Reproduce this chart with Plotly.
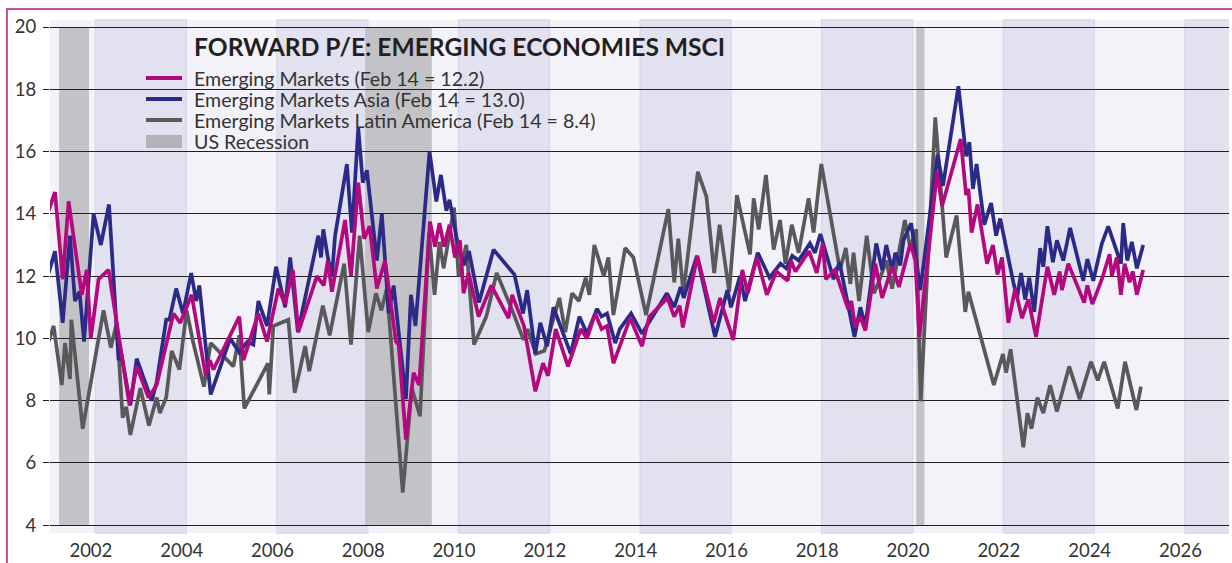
import plotly.graph_objects as go

# ---------------- data ----------------
em_years = [2001.07, 2001.21, 2001.38, 2001.51, 2001.80, 2001.91, 2002.00, 2002.17, 2002.39, 2002.85,
            2003.01, 2003.27, 2003.45, 2003.82, 2003.97, 2004.22, 2004.53, 2004.62, 2004.70, 2005.27,
            2005.36, 2005.69, 2005.88, 2006.13, 2006.28, 2006.45, 2006.57, 2006.98, 2007.13, 2007.22,
            2007.31, 2007.60, 2007.73, 2007.89, 2008.02, 2008.14, 2008.30, 2008.48, 2008.72, 2008.78,
            2008.94, 2009.11, 2009.23, 2009.47, 2009.58, 2009.68, 2009.78, 2009.90, 2010.02, 2010.13,
            2010.21, 2010.32, 2010.54, 2010.82, 2011.20, 2011.28, 2011.54, 2011.79, 2011.96, 2012.07,
            2012.24, 2012.51, 2012.79, 2012.93, 2013.11, 2013.25, 2013.37, 2013.51, 2013.88, 2014.14,
            2014.30, 2014.70, 2014.85, 2014.97, 2015.04, 2015.36, 2015.72, 2015.86, 2015.95, 2016.15,
            2016.35, 2016.47, 2016.67, 2016.89, 2017.10, 2017.35, 2017.42, 2017.52, 2017.82, 2017.99,
            2018.12, 2018.19, 2018.39, 2018.68, 2018.75, 2018.84, 2018.95, 2019.06, 2019.28, 2019.43,
            2019.65, 2019.80, 2020.05, 2020.16, 2020.25, 2020.64, 2020.75, 2021.16, 2021.28, 2021.33,
            2021.40, 2021.53, 2021.74, 2021.87, 2021.97, 2022.07, 2022.21, 2022.36, 2022.51, 2022.65,
            2022.82, 2023.07, 2023.22, 2023.34, 2023.39, 2023.53, 2023.88, 2023.95, 2024.06, 2024.27,
            2024.44, 2024.49, 2024.60, 2024.69, 2024.77, 2024.88, 2024.95, 2025.04, 2025.18]
em_values = [14.1, 14.7, 11.9, 14.4, 11.4, 12.2, 10.0, 11.9, 12.2, 7.85,
             9.1, 8.1, 8.5, 10.8, 10.5, 11.4, 8.8, 9.3, 9.0, 10.7,
             9.3, 10.8, 9.9, 11.6, 11.1, 12.2, 10.2, 12.0, 11.7, 12.5,
             11.5, 13.8, 12.0, 15.0, 13.2, 13.6, 11.6, 12.5, 9.9, 9.8,
             6.75, 8.9, 8.5, 13.75, 12.95, 13.7, 12.95, 13.65, 12.6, 13.15,
             11.45, 12.1, 10.7, 11.7, 10.65, 11.4, 10.4, 8.3, 9.2, 8.8,
             10.3, 9.1, 10.3, 10.0, 10.8, 10.3, 10.4, 9.2, 10.65, 9.75,
             10.7, 11.3, 10.7, 11.05, 10.35, 12.65, 10.5, 11.3, 10.85, 9.95,
             12.2, 11.45, 12.6, 11.4, 12.15, 11.85, 12.5, 12.15, 12.8, 12.1,
             13.05, 11.9, 12.2, 10.95, 11.2, 10.35, 10.7, 10.25, 12.4, 11.3,
             12.3, 11.65, 13.05, 12.5, 10.05, 15.35, 14.25, 16.4, 14.6, 14.8,
             13.4, 14.3, 12.4, 13.0, 12.05, 12.6, 10.5, 11.6, 10.65, 11.25,
             10.05, 12.3, 11.4, 12.15, 11.55, 12.4, 11.15, 11.7, 11.1, 11.9,
             12.7, 12.0, 12.6, 11.4, 12.4, 11.8, 12.15, 11.4, 12.2]

asia_years = [2001.07, 2001.21, 2001.38, 2001.54, 2001.65, 2001.75, 2001.85, 2002.06, 2002.22, 2002.40,
              2002.61, 2002.66, 2002.87, 2003.01, 2003.34, 2003.45, 2003.66, 2003.73, 2003.88, 2004.03,
              2004.21, 2004.32, 2004.39, 2004.64, 2005.07, 2005.27, 2005.45, 2005.58, 2005.69, 2005.88,
              2006.08, 2006.28, 2006.39, 2006.56, 2007.01, 2007.07, 2007.12, 2007.22, 2007.31, 2007.38,
              2007.64, 2007.75, 2007.89, 2007.99, 2008.08, 2008.30, 2008.41, 2008.56, 2008.67, 2008.94,
              2009.05, 2009.15, 2009.46, 2009.61, 2009.71, 2009.83, 2009.90, 2010.06, 2010.21, 2010.33,
              2010.55, 2010.87, 2011.33, 2011.52, 2011.61, 2011.79, 2011.90, 2012.05, 2012.19, 2012.57,
              2012.76, 2012.93, 2013.15, 2013.25, 2013.37, 2013.55, 2013.65, 2013.90, 2014.14, 2014.69,
              2014.85, 2014.99, 2015.06, 2015.35, 2015.75, 2016.02, 2016.10, 2016.30, 2016.41, 2016.69,
              2016.95, 2017.19, 2017.32, 2017.45, 2017.59, 2017.84, 2017.95, 2018.07, 2018.22, 2018.36,
              2018.49, 2018.82, 2018.95, 2019.06, 2019.30, 2019.43, 2019.52, 2019.65, 2019.72, 2019.83,
              2019.90, 2020.07, 2020.27, 2020.65, 2020.77, 2021.11, 2021.28, 2021.35, 2021.43, 2021.51,
              2021.68, 2021.83, 2021.94, 2022.03, 2022.32, 2022.40, 2022.49, 2022.58, 2022.67, 2022.78,
              2022.91, 2022.98, 2023.07, 2023.19, 2023.28, 2023.42, 2023.57, 2023.86, 2023.95, 2024.08,
              2024.27, 2024.41, 2024.69, 2024.74, 2024.83, 2024.93, 2025.04, 2025.18]
asia_values = [12.1, 12.8, 10.5, 13.3, 11.2, 11.5, 9.9, 14.0, 13.0, 14.3,
               9.3, 9.6, 7.85, 9.35, 8.0, 8.6, 10.6, 10.6, 11.6, 10.8,
               12.1, 11.2, 11.7, 8.2, 10.0, 9.55, 9.9, 9.8, 11.2, 10.4,
               12.3, 11.0, 12.6, 10.2, 13.3, 12.6, 13.5, 12.6, 12.0, 13.3,
               15.6, 13.4, 16.75, 15.0, 15.4, 12.5, 14.0, 10.8, 11.7, 8.05,
               11.4, 10.4, 16.0, 14.4, 15.25, 14.1, 14.45, 13.2, 12.35, 12.8,
               11.15, 12.85, 12.05, 10.8, 11.55, 9.5, 10.5, 9.75, 11.0, 9.5,
               10.7, 10.15, 10.95, 10.7, 10.8, 9.85, 10.3, 10.8, 10.15, 11.45,
               11.0, 11.65, 11.3, 12.65, 10.05, 11.55, 11.0, 12.0, 11.2, 12.75,
               11.95, 12.4, 12.25, 12.65, 12.5, 13.05, 12.75, 13.35, 12.6, 11.9,
               12.45, 10.05, 11.0, 10.4, 13.05, 12.2, 13.0, 12.2, 12.75, 12.35,
               13.15, 13.7, 11.55, 15.9, 14.9, 18.1, 15.85, 16.3, 14.8, 15.6,
               13.65, 14.35, 13.3, 13.85, 11.8, 11.3, 12.1, 11.25, 11.95, 10.85,
               12.9, 12.3, 13.6, 12.45, 13.15, 12.5, 13.55, 11.85, 12.55, 11.85,
               13.05, 13.6, 12.4, 13.7, 12.5, 13.1, 12.25, 13.0]

latam_years = [2001.07, 2001.18, 2001.36, 2001.43, 2001.54, 2001.57, 2001.82, 2002.28, 2002.44, 2002.57,
               2002.70, 2002.78, 2002.87, 2003.09, 2003.28, 2003.45, 2003.52, 2003.66, 2003.78, 2003.95,
               2004.11, 2004.25, 2004.49, 2004.64, 2005.14, 2005.27, 2005.38, 2005.90, 2005.93, 2006.02,
               2006.35, 2006.49, 2006.72, 2006.81, 2007.11, 2007.26, 2007.58, 2007.73, 2007.92, 2008.11,
               2008.28, 2008.40, 2008.52, 2008.87, 2009.07, 2009.15, 2009.25, 2009.45, 2009.57, 2009.68,
               2009.77, 2010.00, 2010.10, 2010.27, 2010.44, 2010.71, 2010.94, 2011.31, 2011.53, 2011.62,
               2011.80, 2011.99, 2012.32, 2012.45, 2012.60, 2012.75, 2012.90, 2012.98, 2013.09, 2013.30,
               2013.40, 2013.51, 2013.77, 2013.95, 2014.23, 2014.72, 2014.85, 2014.94, 2015.05, 2015.37,
               2015.56, 2015.73, 2015.85, 2016.06, 2016.23, 2016.52, 2016.60, 2016.71, 2016.87, 2017.04,
               2017.18, 2017.30, 2017.44, 2017.59, 2017.81, 2017.92, 2018.09, 2018.50, 2018.63, 2018.73,
               2018.80, 2018.92, 2019.09, 2019.25, 2019.39, 2019.52, 2019.65, 2019.93, 2020.05, 2020.18,
               2020.28, 2020.60, 2020.84, 2021.07, 2021.26, 2021.33, 2021.89, 2022.09, 2022.16, 2022.26,
               2022.54, 2022.63, 2022.72, 2022.85, 2022.98, 2023.13, 2023.28, 2023.55, 2023.78, 2024.03,
               2024.18, 2024.32, 2024.62, 2024.78, 2025.03, 2025.13]
latam_values = [9.9, 10.4, 8.5, 9.85, 8.7, 10.6, 7.1, 10.9, 9.7, 10.5,
                7.45, 7.8, 6.9, 8.4, 7.2, 8.1, 7.6, 8.1, 9.6, 9.0,
                10.9, 9.9, 8.45, 9.85, 9.1, 10.1, 7.75, 9.2, 8.2, 10.4,
                10.6, 8.25, 9.75, 8.95, 11.05, 10.1, 12.4, 9.8, 13.3, 10.2,
                11.45, 10.9, 11.6, 5.05, 8.4, 8.0, 7.5, 13.4, 11.4, 13.1,
                12.25, 14.2, 12.0, 13.0, 9.8, 10.7, 12.1, 10.8, 9.95, 10.3,
                9.5, 9.6, 11.3, 10.2, 11.45, 11.2, 11.95, 11.4, 13.0, 12.0,
                12.6, 10.75, 12.9, 12.6, 10.75, 14.15, 11.8, 13.2, 11.45, 15.35,
                14.55, 12.1, 13.65, 11.5, 14.6, 12.7, 14.5, 13.5, 15.25, 12.85,
                13.8, 12.4, 13.65, 12.75, 14.5, 13.4, 15.6, 12.2, 12.9, 11.75,
                12.75, 11.2, 13.3, 11.45, 11.95, 12.5, 11.6, 13.8, 12.9, 13.5,
                7.98, 17.1, 12.6, 13.95, 10.85, 11.5, 8.5, 9.5, 8.9, 9.65,
                6.5, 7.6, 7.1, 8.1, 7.6, 8.5, 7.65, 9.1, 8.05, 9.25,
                8.65, 9.25, 7.75, 9.25, 7.7, 8.45]

series_names = ["Emerging Markets (Feb 14 = 12.2)",
                "Emerging Markets Asia (Feb 14 = 13.0)",
                "Emerging Markets Latin America (Feb 14 = 8.4)",
                "US Recession"]
series_colors = ["#b4087f", "#2b2a86", "#59595b", "#b2b2b8"]

recession_start = [2001.30, 2008.04, 2020.18]
recession_end = [2001.96, 2009.51, 2020.36]

band_start = [2002.1, 2006.1, 2010.1, 2014.1, 2018.1, 2022.1, 2026.1]
band_end = [2004.1, 2008.1, 2012.1, 2016.1, 2020.1, 2024.1, 2027.3]

x_ticks = [2002, 2004, 2006, 2008, 2010, 2012, 2014, 2016, 2018, 2020, 2022, 2024, 2026]
y_ticks = [4, 6, 8, 10, 12, 14, 16, 18, 20]

title_text = "FORWARD P/E: EMERGING ECONOMIES MSCI"

# ---------------- layout geometry ----------------
W, H = 1232, 563
L, R, T, B = 50, 1229, 20, 533


def xp(px):
    return (px - L) / (R - L)


def yp(py):
    return (B - py) / (B - T)


FONT = "Lato, 'Open Sans', sans-serif"

fig = go.Figure()

for yrs, vals, name, col in [(latam_years, latam_values, series_names[2], series_colors[2]),
                             (asia_years, asia_values, series_names[1], series_colors[1]),
                             (em_years, em_values, series_names[0], series_colors[0])]:
    fig.add_trace(go.Scatter(x=yrs, y=vals, mode="lines", name=name,
                             line=dict(color=col, width=3.7), showlegend=False,
                             hoverinfo="x+y"))

shapes = []
# alternating two-year bands
for s, e in zip(band_start, band_end):
    shapes.append(dict(type="rect", xref="x", yref="paper", x0=s, x1=e, y0=0, y1=1,
                       fillcolor="#e2e1ef", line=dict(color="#dad8eb", width=1.5), layer="below"))
# recessions
for s, e in zip(recession_start, recession_end):
    shapes.append(dict(type="rect", xref="x", yref="y", x0=s, x1=e, y0=4, y1=20,
                       fillcolor="#c3c3c7", line=dict(width=0), layer="below"))
# frame
shapes.append(dict(type="rect", xref="paper", yref="paper", x0=xp(7), x1=xp(1300),
                   y0=yp(700), y1=yp(9), line=dict(color="#c8529f", width=2),
                   fillcolor="rgba(0,0,0,0)", layer="above"))

annotations = [dict(text="<b>" + title_text + "</b>", xref="paper", yref="paper",
                    x=xp(192), y=yp(46), xanchor="left", yanchor="middle", showarrow=False,
                    font=dict(family=FONT, size=24.6, color="#231f20"))]

legend_rows = [78, 99, 120, 141]
for i, (name, col) in enumerate(zip(series_names, series_colors)):
    yy = legend_rows[i]
    if i < 3:
        shapes.append(dict(type="line", xref="paper", yref="paper", x0=xp(146), x1=xp(182),
                           y0=yp(yy), y1=yp(yy), line=dict(color=col, width=4), layer="above"))
    else:
        shapes.append(dict(type="rect", xref="paper", yref="paper", x0=xp(146), x1=xp(182),
                           y0=yp(148), y1=yp(135), fillcolor=col, line=dict(width=0), layer="above"))
    annotations.append(dict(text=name, xref="paper", yref="paper", x=xp(192), y=yp(yy),
                            xanchor="left", yanchor="middle", showarrow=False,
                            font=dict(family=FONT, size=19.6, color="#333333")))

fig.update_layout(
    width=W, height=H,
    margin=dict(l=L, r=W - R, t=T, b=H - B, pad=0),
    paper_bgcolor="white",
    plot_bgcolor="#f3f2f8",
    showlegend=False,
    shapes=shapes,
    annotations=annotations,
    font=dict(family=FONT, color="#333333"),
    xaxis=dict(range=[2001.1, 2027.07], tickmode="array", tickvals=x_ticks,
               ticktext=[str(t) for t in x_ticks], showgrid=False, zeroline=False,
               showline=False, ticks="", tickfont=dict(size=18.5, color="#333333"),
               ticklabelstandoff=4),
    yaxis=dict(range=[3.75, 20.225], tickmode="array", tickvals=y_ticks,
               showgrid=True, gridcolor="#231f20", gridwidth=1.3, zeroline=False,
               showline=False, ticks="outside", ticklen=6, tickwidth=1.3, tickcolor="#231f20",
               tickfont=dict(size=18.5, color="#333333"), ticklabelstandoff=3),
)

fig.write_html("out.html", config={"displayModeBar": False},
               post_script="document.body.style.margin='0';")
